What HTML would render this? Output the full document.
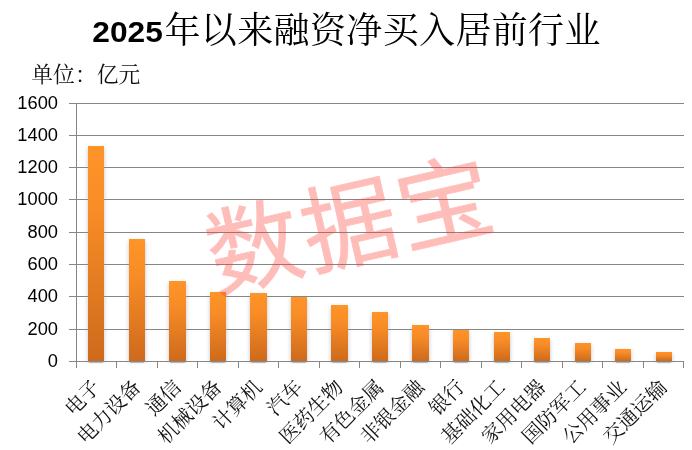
<!DOCTYPE html>
<html lang="zh"><head><meta charset="utf-8"><title>2025年以来融资净买入居前行业</title>
<style>html,body{margin:0;padding:0;background:#fff}body{width:692px;height:450px;overflow:hidden}svg{display:block}.cn{font-family:"Liberation Serif","Noto Serif CJK SC",serif}.num{font-family:"Liberation Sans",sans-serif}.wm{font-family:"Liberation Sans","Noto Sans CJK SC",sans-serif}</style></head><body>
<svg width="692" height="450" viewBox="0 0 692 450">
<defs><linearGradient id="g" x1="0" y1="0" x2="0" y2="1"><stop offset="0" stop-color="#ff9429"/><stop offset="0.3" stop-color="#f88c26"/><stop offset="1" stop-color="#cd6a1c"/></linearGradient><filter id="sh" x="-40%" y="-5%" width="180%" height="115%"><feGaussianBlur in="SourceAlpha" stdDeviation="2.1"/><feOffset dx="0" dy="1.6"/><feColorMatrix type="matrix" values="0 0 0 0 0.28  0 0 0 0 0.31  0 0 0 0 0.36  0 0 0 0.58 0"/></filter></defs>
<rect width="692" height="450" fill="#fff"/>
<text x="92.3" y="42.4" font-size="30.3" class="num" font-weight="bold" fill="#000" textLength="70.5" lengthAdjust="spacingAndGlyphs">2025</text>
<text x="164.5" y="43" font-size="36" class="cn" fill="#000" textLength="436" lengthAdjust="spacing">年以来融资净买入居前行业</text>
<text x="31.3" y="81.8" font-size="21.8" class="cn" fill="#111">单位：亿元</text>
<clipPath id="cp"><rect x="60" y="90" width="632" height="273.6"/></clipPath><g clip-path="url(#cp)"><g filter="url(#sh)">
<rect x="88" y="146" width="16" height="215"/>
<rect x="129" y="239" width="16" height="122"/>
<rect x="169" y="281" width="17" height="80"/>
<rect x="210" y="292" width="16" height="69"/>
<rect x="250" y="293" width="17" height="68"/>
<rect x="291" y="297" width="16" height="64"/>
<rect x="331" y="305" width="17" height="56"/>
<rect x="372" y="312" width="16" height="49"/>
<rect x="412" y="325" width="17" height="36"/>
<rect x="453" y="330" width="16" height="31"/>
<rect x="494" y="332" width="16" height="29"/>
<rect x="534" y="338" width="16" height="23"/>
<rect x="575" y="343" width="16" height="18"/>
<rect x="615" y="349" width="16" height="12"/>
<rect x="656" y="352" width="16" height="9"/>
</g></g>
<rect x="89" y="362" width="14" height="1" fill="#5f666e" fill-opacity="0.3"/>
<rect x="130" y="362" width="14" height="1" fill="#5f666e" fill-opacity="0.3"/>
<rect x="170" y="362" width="15" height="1" fill="#5f666e" fill-opacity="0.3"/>
<rect x="211" y="362" width="14" height="1" fill="#5f666e" fill-opacity="0.3"/>
<rect x="251" y="362" width="15" height="1" fill="#5f666e" fill-opacity="0.3"/>
<rect x="292" y="362" width="14" height="1" fill="#5f666e" fill-opacity="0.3"/>
<rect x="332" y="362" width="15" height="1" fill="#5f666e" fill-opacity="0.3"/>
<rect x="373" y="362" width="14" height="1" fill="#5f666e" fill-opacity="0.3"/>
<rect x="413" y="362" width="15" height="1" fill="#5f666e" fill-opacity="0.3"/>
<rect x="454" y="362" width="14" height="1" fill="#5f666e" fill-opacity="0.3"/>
<rect x="495" y="362" width="14" height="1" fill="#5f666e" fill-opacity="0.3"/>
<rect x="535" y="362" width="14" height="1" fill="#5f666e" fill-opacity="0.3"/>
<rect x="576" y="362" width="14" height="1" fill="#5f666e" fill-opacity="0.3"/>
<rect x="616" y="362" width="14" height="1" fill="#5f666e" fill-opacity="0.3"/>
<rect x="657" y="362" width="14" height="1" fill="#5f666e" fill-opacity="0.3"/>
<line x1="69" y1="103.5" x2="684" y2="103.5" stroke="#868686" stroke-width="1"/>
<text x="58" y="109.10" font-size="18.3" class="num" fill="#000" text-anchor="end">1600</text>
<line x1="69" y1="135.5" x2="684" y2="135.5" stroke="#868686" stroke-width="1"/>
<text x="58" y="141.10" font-size="18.3" class="num" fill="#000" text-anchor="end">1400</text>
<line x1="69" y1="167.5" x2="684" y2="167.5" stroke="#868686" stroke-width="1"/>
<text x="58" y="173.10" font-size="18.3" class="num" fill="#000" text-anchor="end">1200</text>
<line x1="69" y1="199.5" x2="684" y2="199.5" stroke="#868686" stroke-width="1"/>
<text x="58" y="205.10" font-size="18.3" class="num" fill="#000" text-anchor="end">1000</text>
<line x1="69" y1="232.5" x2="684" y2="232.5" stroke="#868686" stroke-width="1"/>
<text x="58" y="238.10" font-size="18.3" class="num" fill="#000" text-anchor="end">800</text>
<line x1="69" y1="264.5" x2="684" y2="264.5" stroke="#868686" stroke-width="1"/>
<text x="58" y="270.10" font-size="18.3" class="num" fill="#000" text-anchor="end">600</text>
<line x1="69" y1="296.5" x2="684" y2="296.5" stroke="#868686" stroke-width="1"/>
<text x="58" y="302.10" font-size="18.3" class="num" fill="#000" text-anchor="end">400</text>
<line x1="69" y1="329.5" x2="684" y2="329.5" stroke="#868686" stroke-width="1"/>
<text x="58" y="335.10" font-size="18.3" class="num" fill="#000" text-anchor="end">200</text>
<line x1="69" y1="361.5" x2="684" y2="361.5" stroke="#868686" stroke-width="1"/>
<text x="58" y="367.10" font-size="18.3" class="num" fill="#000" text-anchor="end">0</text>
<line x1="76.5" y1="103" x2="76.5" y2="368" stroke="#868686" stroke-width="1"/>
<line x1="116.5" y1="361" x2="116.5" y2="368" stroke="#868686" stroke-width="1"/>
<line x1="157.5" y1="361" x2="157.5" y2="368" stroke="#868686" stroke-width="1"/>
<line x1="197.5" y1="361" x2="197.5" y2="368" stroke="#868686" stroke-width="1"/>
<line x1="238.5" y1="361" x2="238.5" y2="368" stroke="#868686" stroke-width="1"/>
<line x1="278.5" y1="361" x2="278.5" y2="368" stroke="#868686" stroke-width="1"/>
<line x1="319.5" y1="361" x2="319.5" y2="368" stroke="#868686" stroke-width="1"/>
<line x1="359.5" y1="361" x2="359.5" y2="368" stroke="#868686" stroke-width="1"/>
<line x1="400.5" y1="361" x2="400.5" y2="368" stroke="#868686" stroke-width="1"/>
<line x1="440.5" y1="361" x2="440.5" y2="368" stroke="#868686" stroke-width="1"/>
<line x1="481.5" y1="361" x2="481.5" y2="368" stroke="#868686" stroke-width="1"/>
<line x1="521.5" y1="361" x2="521.5" y2="368" stroke="#868686" stroke-width="1"/>
<line x1="562.5" y1="361" x2="562.5" y2="368" stroke="#868686" stroke-width="1"/>
<line x1="602.5" y1="361" x2="602.5" y2="368" stroke="#868686" stroke-width="1"/>
<line x1="643.5" y1="361" x2="643.5" y2="368" stroke="#868686" stroke-width="1"/>
<line x1="683.5" y1="361" x2="683.5" y2="368" stroke="#868686" stroke-width="1"/>
<rect x="88" y="146" width="16" height="215" fill="url(#g)"/>
<rect x="129" y="239" width="16" height="122" fill="url(#g)"/>
<rect x="169" y="281" width="17" height="80" fill="url(#g)"/>
<rect x="210" y="292" width="16" height="69" fill="url(#g)"/>
<rect x="250" y="293" width="17" height="68" fill="url(#g)"/>
<rect x="291" y="297" width="16" height="64" fill="url(#g)"/>
<rect x="331" y="305" width="17" height="56" fill="url(#g)"/>
<rect x="372" y="312" width="16" height="49" fill="url(#g)"/>
<rect x="412" y="325" width="17" height="36" fill="url(#g)"/>
<rect x="453" y="330" width="16" height="31" fill="url(#g)"/>
<rect x="494" y="332" width="16" height="29" fill="url(#g)"/>
<rect x="534" y="338" width="16" height="23" fill="url(#g)"/>
<rect x="575" y="343" width="16" height="18" fill="url(#g)"/>
<rect x="615" y="349" width="16" height="12" fill="url(#g)"/>
<rect x="656" y="352" width="16" height="9" fill="url(#g)"/>
<g opacity="0.33"><text class="wm" transform="translate(350.8,226.4) rotate(-13)" x="0" y="32.9" font-size="95" fill="#ff3b30" stroke="#ff3b30" stroke-width="0.8" text-anchor="middle" letter-spacing="2.5">数据宝</text></g>
<text class="cn" transform="translate(96.73,383.7) rotate(-45)" x="0" y="6.75" font-size="20" fill="#111" text-anchor="end">电子</text>
<text class="cn" transform="translate(137.20,383.7) rotate(-45)" x="0" y="6.75" font-size="20" fill="#111" text-anchor="end">电力设备</text>
<text class="cn" transform="translate(177.68,383.7) rotate(-45)" x="0" y="6.75" font-size="20" fill="#111" text-anchor="end">通信</text>
<text class="cn" transform="translate(218.14,383.7) rotate(-45)" x="0" y="6.75" font-size="20" fill="#111" text-anchor="end">机械设备</text>
<text class="cn" transform="translate(258.62,383.7) rotate(-45)" x="0" y="6.75" font-size="20" fill="#111" text-anchor="end">计算机</text>
<text class="cn" transform="translate(299.08,383.7) rotate(-45)" x="0" y="6.75" font-size="20" fill="#111" text-anchor="end">汽车</text>
<text class="cn" transform="translate(339.56,383.7) rotate(-45)" x="0" y="6.75" font-size="20" fill="#111" text-anchor="end">医药生物</text>
<text class="cn" transform="translate(380.02,383.7) rotate(-45)" x="0" y="6.75" font-size="20" fill="#111" text-anchor="end">有色金属</text>
<text class="cn" transform="translate(420.50,383.7) rotate(-45)" x="0" y="6.75" font-size="20" fill="#111" text-anchor="end">非银金融</text>
<text class="cn" transform="translate(460.96,383.7) rotate(-45)" x="0" y="6.75" font-size="20" fill="#111" text-anchor="end">银行</text>
<text class="cn" transform="translate(501.44,383.7) rotate(-45)" x="0" y="6.75" font-size="20" fill="#111" text-anchor="end">基础化工</text>
<text class="cn" transform="translate(541.90,383.7) rotate(-45)" x="0" y="6.75" font-size="20" fill="#111" text-anchor="end">家用电器</text>
<text class="cn" transform="translate(582.38,383.7) rotate(-45)" x="0" y="6.75" font-size="20" fill="#111" text-anchor="end">国防军工</text>
<text class="cn" transform="translate(622.85,383.7) rotate(-45)" x="0" y="6.75" font-size="20" fill="#111" text-anchor="end">公用事业</text>
<text class="cn" transform="translate(663.31,383.7) rotate(-45)" x="0" y="6.75" font-size="20" fill="#111" text-anchor="end">交通运输</text>
</svg></body></html>
